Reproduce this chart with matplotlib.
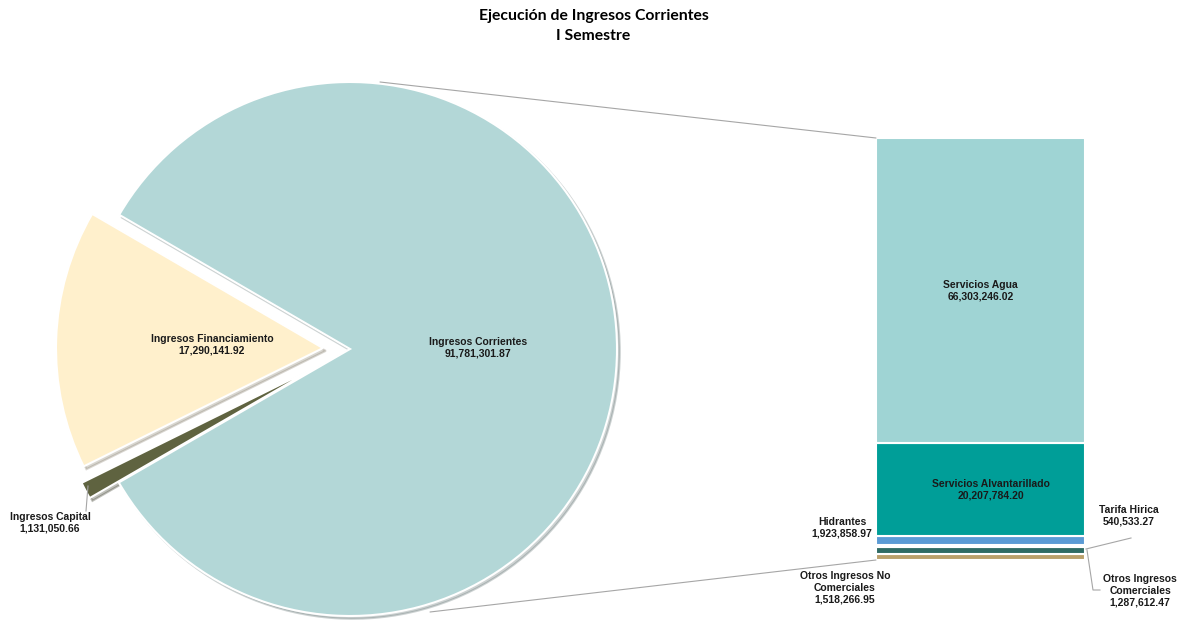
import matplotlib.pyplot as plt
from matplotlib.patches import ConnectionPatch

plt.rcParams['font.family'] = ['Liberation Sans', 'DejaVu Sans']

# datos del pie
pie_labels = ['Ingresos Corrientes', 'Ingresos Financiamiento', 'Ingresos Capital']
pie_values = [91781301.87, 17290141.92, 1131050.66]
pie_colors = ['#b3d7d7', '#fff0cc', '#5f6340']

# desglose de Ingresos Corrientes (de abajo hacia arriba)
bar_labels = ['Otros Ingresos\nComerciales', 'Otros Ingresos No\nComerciales', 'Tarifa Hirica',
              'Hidrantes', 'Servicios Alvantarillado', 'Servicios Agua']
bar_values = [1287612.47, 1518266.95, 540533.27, 1923858.97, 20207784.20, 66303246.02]
bar_colors = ['#b9a06b', '#2f6b64', '#e8dcc8', '#5b9bd5', '#009e98', '#9fd4d4']


def fmt(v):
    return f'{v:,.2f}'


fig = plt.figure(figsize=(11.87, 6.21), dpi=100)

# ejes en pixeles para el pie
ax = fig.add_axes([0, 0, 1, 1])

cx, cy, R = 350, 621 - 349, 267
wedges, _ = ax.pie(pie_values, colors=pie_colors, startangle=-150, counterclock=True,
                   explode=[0, 27, 33], center=(cx, cy), radius=R, frame=True,
                   wedgeprops=dict(edgecolor='white', linewidth=1.5),
                   shadow={'ox': 2, 'oy': -2, 'shade': 0.5, 'alpha': 0.3})
ax.set_xlim(0, 1187)
ax.set_ylim(0, 621)
ax.axis('off')

fig.text(0.5, 1 - 26 / 621, 'Ejecución de Ingresos Corrientes\nI Semestre', ha='center', va='center',
         fontsize=11.3, fontweight='bold', family=['Lato', 'DejaVu Sans'], linespacing=1.5)

lbl = dict(ha='center', va='center', fontsize=7.5, fontweight='bold', color='#1a1a1a', linespacing=1.2)
ax.text(478, 621 - 348, f'{pie_labels[0]}\n{fmt(pie_values[0])}', **lbl)
ax.text(212, 621 - 345, f'{pie_labels[1]}\n{fmt(pie_values[1])}', **lbl)
ax.text(50, 621 - 523, f'{pie_labels[2]}\n{fmt(pie_values[2])}', **lbl)
ax.plot([88, 86], [621 - 486, 621 - 511], color='#a6a6a6', lw=0.8)

# barra apilada
bx = fig.add_axes([876 / 1187, 61 / 621, 209 / 1187, 422 / 621])
bottom = 0
for v, c in zip(bar_values, bar_colors):
    bx.bar(0, v, bottom=bottom, width=1, color=c, edgecolor='white', linewidth=1.5)
    bottom += v
total = sum(bar_values)
bx.set_xlim(-0.5, 0.5)
bx.set_ylim(0, total)
bx.axis('off')

mid_agua = total - bar_values[5] / 2
bx.text(0, mid_agua, f'{bar_labels[5]}\n{fmt(bar_values[5])}', **lbl)
mid_alc = total - bar_values[5] - bar_values[4] / 2
bx.text(0.05, mid_alc, f'{bar_labels[4]}\n{fmt(bar_values[4])}', **lbl)

ax.text(842, 621 - 528, f'{bar_labels[3]}\n{fmt(bar_values[3])}', **lbl)
ax.text(1129, 621 - 516, f'{bar_labels[2]}\n{fmt(bar_values[2])}', **lbl)
ax.plot([1086, 1131], [621 - 549, 621 - 538], color='#a6a6a6', lw=0.8)
ax.text(845, 621 - 588, f'{bar_labels[1]}\n{fmt(bar_values[1])}', **lbl)
ax.text(1140, 621 - 591, f'{bar_labels[0]}\n{fmt(bar_values[0])}', **lbl)
ax.plot([1087, 1093, 1100], [621 - 550, 621 - 590, 621 - 590], color='#a6a6a6', lw=0.8)

# lineas de conexion
for xy_pie, y_bar in [((380, 621 - 82), total), ((430, 621 - 612), 0)]:
    con = ConnectionPatch(xyA=xy_pie, coordsA=ax.transData, xyB=(-0.5, y_bar), coordsB=bx.transData,
                          color='#a6a6a6', lw=0.8)
    fig.add_artist(con)

fig.savefig('out.png', dpi=100)
